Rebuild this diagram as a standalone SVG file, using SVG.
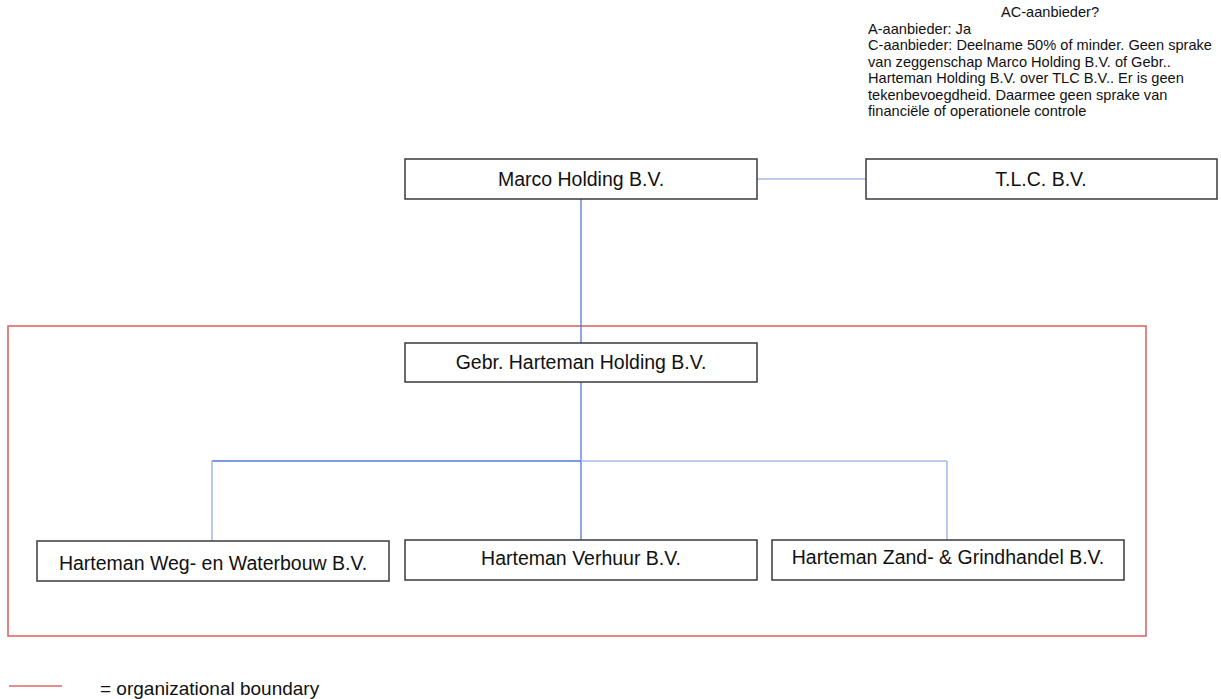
<svg xmlns="http://www.w3.org/2000/svg" width="1221" height="699" viewBox="0 0 1221 699">
<style>
.box{fill:#fff;stroke:#3a3a3a;stroke-width:1.5}
.lbl{font-family:"Liberation Sans",Arial,sans-serif;font-size:19.5px;fill:#111;text-anchor:middle}
.note{font-family:"Liberation Sans",Arial,sans-serif;font-size:14.6px;fill:#111}
.blue{stroke:#4f78d8;stroke-width:1.3;fill:none}
.lblue{stroke:#a7bde8;stroke-width:1.6;fill:none}
.red{stroke:#e06666;stroke-width:1.6;fill:none}
</style>
<rect x="0" y="0" width="1221" height="699" fill="#fff"/>
<g id="boundary"><rect class="red" x="8" y="326" width="1138" height="310"/></g>
<g id="connectors">
<line class="lblue" x1="757" y1="179" x2="866" y2="179"/>
<line class="blue" x1="581" y1="199" x2="581" y2="343"/>
<line class="blue" x1="581" y1="382" x2="581" y2="540"/>
<line class="blue" x1="212" y1="461" x2="581" y2="461"/>
<line class="lblue" x1="581" y1="461" x2="947" y2="461"/>
<line class="lblue" x1="212" y1="461" x2="212" y2="541"/>
<line class="lblue" x1="947" y1="461" x2="947" y2="540"/>
</g>
<g id="marco">
<rect class="box" x="405" y="159" width="352" height="40"/>
<text class="lbl" x="581" y="186">Marco Holding B.V.</text>
</g>
<g id="tlc">
<rect class="box" x="866" y="159" width="351" height="40"/>
<text class="lbl" x="1041" y="186">T.L.C. B.V.</text>
</g>
<g id="gebr">
<rect class="box" x="405" y="343" width="352" height="39"/>
<text class="lbl" x="581" y="369">Gebr. Harteman Holding B.V.</text>
</g>
<g id="weg">
<rect class="box" x="37" y="541" width="352" height="40"/>
<text class="lbl" x="213" y="570">Harteman Weg- en Waterbouw B.V.</text>
</g>
<g id="verhuur">
<rect class="box" x="405" y="540" width="352" height="40"/>
<text class="lbl" x="581" y="565">Harteman Verhuur B.V.</text>
</g>
<g id="zand">
<rect class="box" x="772" y="540" width="352" height="40"/>
<text class="lbl" x="948" y="564">Harteman Zand- &amp; Grindhandel B.V.</text>
</g>
<g id="note">
<text class="note" x="1050" y="17" text-anchor="middle">AC-aanbieder?</text>
<text class="note" x="868" y="34">A-aanbieder: Ja</text>
<text class="note" x="868" y="50">C-aanbieder: Deelname 50% of minder. Geen sprake</text>
<text class="note" x="868" y="67">van zeggenschap Marco Holding B.V.  of Gebr..</text>
<text class="note" x="868" y="83">Harteman Holding B.V. over TLC B.V..  Er is geen</text>
<text class="note" x="868" y="100">tekenbevoegdheid. Daarmee geen  sprake van</text>
<text class="note" x="868" y="116">financiële of operationele controle</text>
</g>
<g id="legend">
<line class="red" x1="9" y1="686" x2="62" y2="686"/>
<text x="100" y="695" style="font-family:'Liberation Sans',Arial,sans-serif;font-size:19px;fill:#111">= organizational boundary</text>
</g>
</svg>
